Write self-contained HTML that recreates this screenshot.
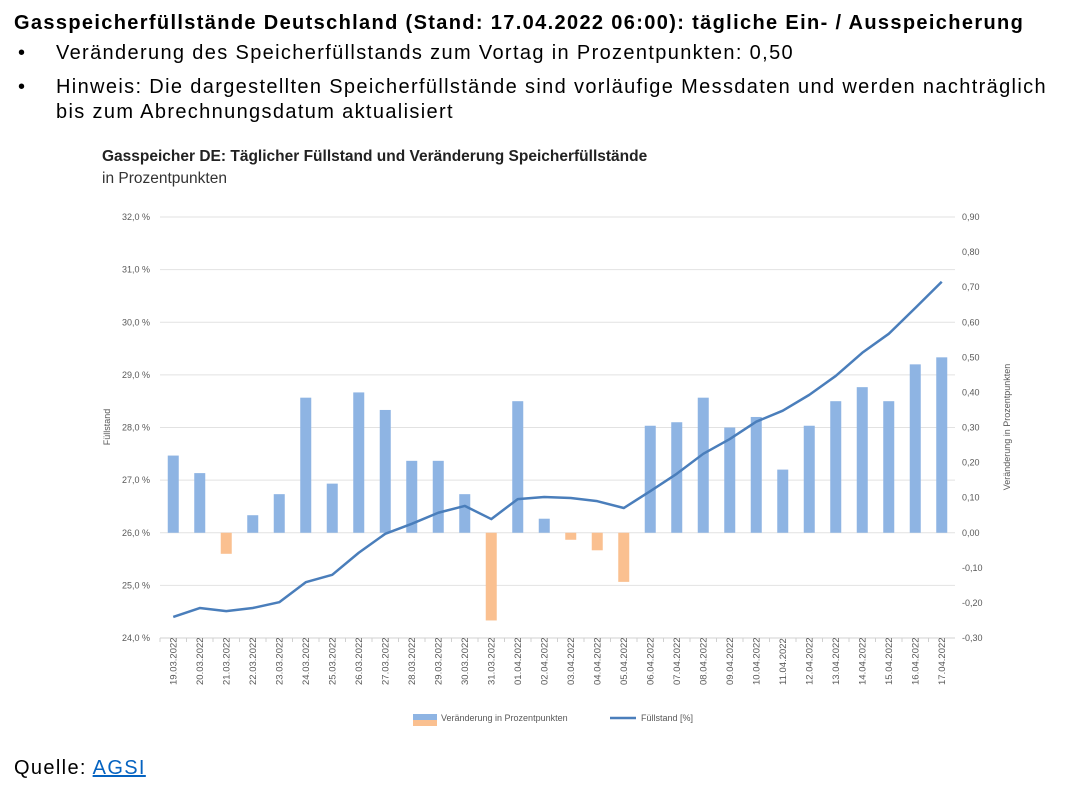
<!DOCTYPE html>
<html><head><meta charset="utf-8"><style>
body{margin:0;width:1066px;height:794px;background:#fff;font-family:"Liberation Sans",sans-serif;overflow:hidden;position:relative}
.t{position:absolute;color:#000;font-size:20px;letter-spacing:1.35px}
</style></head><body>
<div class="t" style="left:14px;top:12px;font-weight:bold;white-space:nowrap">Gasspeicherfüllstände Deutschland (Stand: 17.04.2022 06:00): tägliche Ein- / Ausspeicherung</div>
<div class="t" style="left:18px;top:42px">•<span style="position:absolute;left:38px;white-space:nowrap">Veränderung des Speicherfüllstands zum Vortag in Prozentpunkten: 0,50</span></div>
<div class="t" style="left:18px;top:75px;line-height:25px">•<span style="position:absolute;left:38px;width:995px">Hinweis: Die dargestellten Speicherfüllstände sind vorläufige Messdaten und werden nachträglich bis zum Abrechnungsdatum aktualisiert</span></div>
<div class="t" style="left:14px;top:757px">Quelle: <a style="color:#0563c1;text-decoration:underline">AGSI</a></div>
<svg id="c" width="1066" height="794" style="position:absolute;left:0;top:0" font-family="Liberation Sans, sans-serif"></svg>
<script>
const categories=["19.03.2022","20.03.2022","21.03.2022","22.03.2022","23.03.2022","24.03.2022","25.03.2022","26.03.2022","27.03.2022","28.03.2022","29.03.2022","30.03.2022","31.03.2022","01.04.2022","02.04.2022","03.04.2022","04.04.2022","05.04.2022","06.04.2022","07.04.2022","08.04.2022","09.04.2022","10.04.2022","11.04.2022","12.04.2022","13.04.2022","14.04.2022","15.04.2022","16.04.2022","17.04.2022"];
const changeValues=[0.22,0.17,-0.06,0.05,0.11,0.385,0.14,0.40,0.35,0.205,0.205,0.11,-0.25,0.375,0.04,-0.02,-0.05,-0.14,0.305,0.315,0.385,0.30,0.33,0.18,0.305,0.375,0.415,0.375,0.48,0.50];
const levelValues=[24.40,24.57,24.51,24.57,24.68,25.06,25.20,25.62,25.98,26.17,26.38,26.51,26.26,26.64,26.68,26.66,26.60,26.47,26.79,27.12,27.50,27.78,28.11,28.32,28.62,28.98,29.42,29.78,30.27,30.77];
const leftTicks=[24,25,26,27,28,29,30,31,32];
const rightTicks=[-0.3,-0.2,-0.1,0,0.1,0.2,0.3,0.4,0.5,0.6,0.7,0.8,0.9];
const svg=document.getElementById('c');const NS="http://www.w3.org/2000/svg";
const X0=160,X1=955,Y0=638,Y1=217;
const bw=(X1-X0)/categories.length;
const xc=i=>X0+bw*(i+0.5);
const yL=v=>Y0-(v-24)/(32-24)*(Y0-Y1);
const yR=v=>Y0-(v+0.3)/(1.2)*(Y0-Y1);
function el(tag,a,txt){const e=document.createElementNS(NS,tag);for(const k in a)e.setAttribute(k,a[k]);if(txt!=null)e.textContent=txt;svg.appendChild(e);return e;}
function fmt(v,d){return v.toFixed(d).replace('.',',');}
let e;
e=el('text',{x:102,y:161,'font-size':15.5,'font-weight':'bold',fill:'#222'},'Gasspeicher DE: Täglicher Füllstand und Veränderung Speicherfüllstände');

e=el('text',{x:102,y:183,'font-size':15.5,fill:'#333'},'in Prozentpunkten');

leftTicks.forEach(v=>{const y=yL(v);
 if(v>24){e=el('line',{x1:X0,x2:X1,y1:y,y2:y,stroke:'#e2e2e2'});}
 e=el('text',{x:150,y:y+3,'font-size':9,fill:'#595959','text-anchor':'end'},fmt(v,1)+' %');
 });
rightTicks.forEach(v=>{const y=yR(v);
 e=el('text',{x:962,y:y+3,'font-size':9,fill:'#595959'},fmt(Math.abs(v)<1e-9?0:v,2));
 });
e=el('line',{x1:X0,x2:X1,y1:Y0,y2:Y0,stroke:'#d0d0d0'});
changeValues.forEach((v,i)=>{const y0=yR(0),y=yR(v);
 e=el('rect',{x:xc(i)-5.5,width:11,y:Math.min(y,y0),height:Math.abs(y-y0),fill:v>=0?'#8eb4e3':'#fac090'});
 });
categories.forEach((c,i)=>{
 e=el('line',{x1:X0+bw*i,x2:X0+bw*i,y1:Y0,y2:Y0+4,stroke:'#d0d0d0'});
 e=el('text',{transform:`translate(${xc(i)+3},${Y0+47}) rotate(-90)`,'font-size':9.5,fill:'#595959'},c);
 });
e=el('polyline',{points:levelValues.map((v,i)=>xc(i)+','+yL(v)).join(' '),fill:'none',stroke:'#4a7ebb','stroke-width':2.5,'stroke-linejoin':'round'});

e=el('text',{transform:'translate(110,427) rotate(-90)','font-size':9,fill:'#595959','text-anchor':'middle'},'Füllstand');

e=el('text',{transform:'translate(1010,427) rotate(-90)','font-size':9,fill:'#595959','text-anchor':'middle'},'Veränderung in Prozentpunkten');

e=el('rect',{x:413,y:714,width:24,height:6,fill:'#8eb4e3'});
e=el('rect',{x:413,y:720,width:24,height:6,fill:'#fac090'});
e=el('text',{x:441,y:721,'font-size':9,fill:'#595959'},'Veränderung in Prozentpunkten');
e=el('line',{x1:610,x2:636,y1:718,y2:718,stroke:'#4a7ebb','stroke-width':2.5});
e=el('text',{x:641,y:721,'font-size':9,fill:'#595959'},'Füllstand [%]');
</script>
</body></html>
